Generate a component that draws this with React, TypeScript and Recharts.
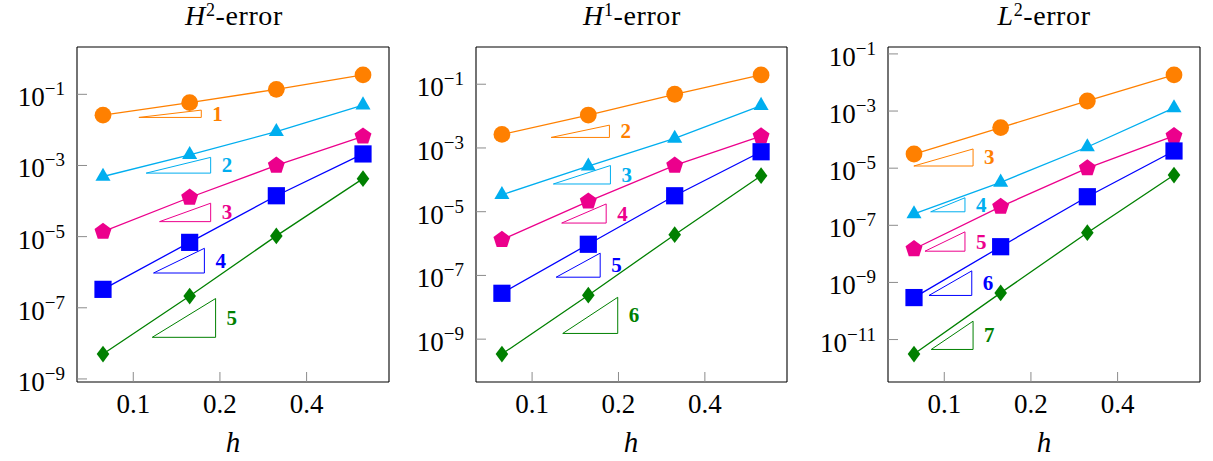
import React from "react"
import { ScatterChart, Scatter, XAxis, YAxis } from "recharts"

// mesh sizes
const H = [0.0785, 0.157, 0.314, 0.628]
const X_TICKS = [0.1, 0.2, 0.4]

// H2-error, one array per polynomial degree
const h2Orange = [2.6e-2, 5.82e-2, 1.38e-1, 3.51e-1]
const h2Cyan = [4.9e-4, 2.0e-3, 8.9e-3, 5.0e-2]
const h2Magenta = [1.38e-5, 1.26e-4, 1.0e-3, 6.6e-3]
const h2Blue = [3.3e-7, 6.9e-6, 1.41e-4, 2.11e-3]
const h2Green = [5.0e-9, 2.14e-7, 1.05e-5, 4.27e-4]

// H1-error
const h1Orange = [2.66e-3, 1.08e-2, 4.84e-2, 1.96e-1]
const h1Cyan = [3.4e-5, 2.7e-4, 2.0e-3, 2.14e-2]
const h1Magenta = [1.32e-6, 2.11e-5, 2.82e-4, 2.34e-3]
const h1Blue = [2.75e-8, 9.5e-7, 3.16e-5, 7.6e-4]
const h1Green = [3.4e-10, 2.4e-8, 1.9e-6, 1.35e-4]

// L2-error
const l2Orange = [3.13e-5, 2.63e-4, 2.25e-3, 1.84e-2]
const l2Cyan = [2.5e-7, 3.2e-6, 5.5e-5, 1.29e-3]
const l2Magenta = [1.48e-8, 4.5e-7, 1.0e-5, 1.35e-4]
const l2Blue = [2.95e-10, 1.78e-8, 1.0e-6, 4.0e-5]
const l2Green = [3.1e-12, 4.3e-10, 5.5e-8, 5.75e-6]

// slope triangles: [h start, h end, low error, high error]
const h2Slopes = [
  [0.1046, 0.1723, 2.24e-2, 3.6e-2],
  [0.1109, 0.1857, 6.1e-4, 1.69e-3],
  [0.1234, 0.1857, 2.64e-5, 8.7e-5],
  [0.1176, 0.1766, 9.5e-7, 4.7e-6],
  [0.1164, 0.1932, 1.48e-8, 1.82e-7],
]
const h1Slopes = [
  [0.1165, 0.186, 2.14e-3, 5.2e-3],
  [0.1186, 0.1875, 7.4e-5, 2.81e-4],
  [0.1268, 0.1812, 4.4e-6, 1.75e-5],
  [0.1213, 0.1727, 8.8e-8, 5.0e-7],
  [0.1279, 0.1988, 1.51e-9, 2.06e-8],
]
const l2Slopes = [
  [0.0784, 0.1259, 1.19e-5, 4.7e-5],
  [0.0897, 0.118, 2.97e-7, 9.2e-7],
  [0.0857, 0.118, 1.24e-8, 5.9e-8],
  [0.0885, 0.1246, 3.5e-10, 2.54e-9],
  [0.0901, 0.1259, 4.5e-12, 4.4e-11],
]
const h2Orders = ["1", "2", "3", "4", "5"]
const h1Orders = ["2", "3", "4", "5", "6"]
const l2Orders = ["3", "4", "5", "6", "7"]

const Y_TICKS_9 = [1e-1, 1e-3, 1e-5, 1e-7, 1e-9]
const Y_TICKS_11 = [1e-1, 1e-3, 1e-5, 1e-7, 1e-9, 1e-11]

const COLORS = ["#ff8000", "#00aeef", "#ec008c", "#0000ff", "#008000"]
const MARKERS = ["circle", "triangle", "pentagon", "square", "diamond"]
const FONT = "'Liberation Serif', 'Times New Roman', serif"

function markerShape(kind: string, color: string) {
  return (p: any) => {
    const { cx, cy } = p
    if (cx == null || cy == null) return <g />
    if (kind === "circle") return <circle cx={cx} cy={cy} r={8.4} fill={color} />
    if (kind === "square")
      return <rect x={cx - 8.6} y={cy - 8.6} width={17.2} height={17.2} fill={color} />
    if (kind === "diamond")
      return (
        <polygon
          points={`${cx},${cy - 8.4} ${cx + 6.3},${cy} ${cx},${cy + 8.4} ${cx - 6.3},${cy}`}
          fill={color}
        />
      )
    const n = kind === "triangle" ? 3 : 5
    const R = kind === "triangle" ? 8.7 : 8.9
    const pts = []
    for (let k = 0; k < n; k++) {
      const a = -Math.PI / 2 + (2 * Math.PI * k) / n
      pts.push(`${cx + R * Math.cos(a)},${cy + R * Math.sin(a)}`)
    }
    return <polygon points={pts.join(" ")} fill={color} />
  }
}

function labelShape(color: string) {
  return (p: any) => (
    <text
      x={p.cx + 11}
      y={p.cy}
      dominantBaseline="central"
      fontFamily={FONT}
      fontWeight="bold"
      fontSize={21}
      fill={color}
    >
      {p.payload.label}
    </text>
  )
}

function XTick({ x, y, payload }: any) {
  return (
    <text x={x} y={y} textAnchor="middle" fontFamily={FONT} fontSize={27} fill="#000">
      {String(payload.value)}
    </text>
  )
}

function YTick({ x, y, payload }: any) {
  const e = Math.round(Math.log10(payload.value))
  return (
    <text x={x} y={y + 12} textAnchor="end" fontFamily={FONT} fontSize={27} fill="#000">
      10
      <tspan dy={-11} fontSize={19}>
        {"\u2212" + Math.abs(e)}
      </tspan>
    </text>
  )
}

function Panel({
  left,
  width,
  yAxisWidth,
  rightMargin,
  series,
  slopes,
  orders,
  yTicks,
}: {
  left: number
  width: number
  yAxisWidth: number
  rightMargin: number
  series: number[][]
  slopes: number[][]
  orders: string[]
  yTicks: number[]
}) {
  const all = series.flat()
  const yMin = Math.min(...all)
  const yMax = Math.max(...all)
  const ySpread = Math.pow(yMax / yMin, 0.1)
  const xSpread = Math.pow(H[H.length - 1] / H[0], 0.1)
  const xDomain = [H[0] / xSpread, H[H.length - 1] * xSpread]
  const yDomain = [yMin / ySpread, yMax * ySpread]

  const axisLine = { stroke: "#000", strokeWidth: 1.1 }
  const tickLine = { stroke: "#8c8c8c", strokeWidth: 1 }

  return (
    <div style={{ position: "absolute", left, top: 0 }}>
      <ScatterChart
        width={width}
        height={461}
        margin={{ top: 46, right: rightMargin, bottom: 0, left: 0 }}
      >
        <XAxis
          xAxisId="b"
          dataKey="x"
          type="number"
          scale="log"
          domain={xDomain}
          allowDataOverflow
          ticks={X_TICKS}
          interval={0}
          height={79}
          tickSize={-10}
          tickMargin={41}
          tick={<XTick />}
          axisLine={axisLine}
          tickLine={tickLine}
        />
        <XAxis
          xAxisId="t"
          orientation="top"
          dataKey="x"
          type="number"
          scale="log"
          domain={xDomain}
          allowDataOverflow
          ticks={X_TICKS}
          interval={0}
          height={1}
          tickSize={-10}
          tick={false}
          axisLine={axisLine}
          tickLine={tickLine}
        />
        <YAxis
          yAxisId="l"
          dataKey="y"
          type="number"
          scale="log"
          domain={yDomain}
          allowDataOverflow
          ticks={yTicks}
          interval={0}
          width={yAxisWidth}
          tickSize={-10}
          tickMargin={22}
          tick={<YTick />}
          axisLine={axisLine}
          tickLine={tickLine}
        />
        <YAxis
          yAxisId="r"
          orientation="right"
          dataKey="y"
          type="number"
          scale="log"
          domain={yDomain}
          allowDataOverflow
          ticks={yTicks}
          interval={0}
          width={1}
          tickSize={-10}
          tick={false}
          axisLine={axisLine}
          tickLine={tickLine}
        />
        {series.map((vals, i) => (
          <Scatter
            key={"s" + i}
            xAxisId="b"
            yAxisId="l"
            data={H.map((x, j) => ({ x, y: vals[j] }))}
            line={{ stroke: COLORS[i], strokeWidth: 1.3 }}
            lineType="joint"
            fill={COLORS[i]}
            shape={markerShape(MARKERS[i], COLORS[i])}
            isAnimationActive={false}
          />
        ))}
        {slopes.map((s, i) => (
          <Scatter
            key={"t" + i}
            xAxisId="b"
            yAxisId="l"
            data={[
              { x: s[0], y: s[2] },
              { x: s[1], y: s[2] },
              { x: s[1], y: s[3] },
              { x: s[0], y: s[2] },
            ]}
            line={{ stroke: COLORS[i], strokeWidth: 1 }}
            lineType="joint"
            fill={COLORS[i]}
            shape={() => <g />}
            isAnimationActive={false}
          />
        ))}
        {slopes.map((s, i) => (
          <Scatter
            key={"l" + i}
            xAxisId="b"
            yAxisId="l"
            data={[{ x: s[1], y: Math.sqrt(s[2] * s[3]), label: orders[i] }]}
            fill={COLORS[i]}
            shape={labelShape(COLORS[i])}
            isAnimationActive={false}
          />
        ))}
      </ScatterChart>
    </div>
  )
}

function Title({ x, letter, power }: { x: number; letter: string; power: string }) {
  return (
    <text
      x={x}
      y={25}
      textAnchor="middle"
      fontFamily={FONT}
      fontSize={28}
      letterSpacing={0.6}
      fill="#000"
    >
      <tspan fontStyle="italic">{letter}</tspan>
      <tspan dy={-9} fontSize={18}>
        {power}
      </tspan>
      <tspan dy={9}>-error</tspan>
    </text>
  )
}

export default function App() {
  return (
    <div
      style={{
        position: "absolute",
        left: 0,
        top: 0,
        width: 1213,
        height: 461,
        background: "#fff",
      }}
    >
      <Panel
        left={0}
        width={400}
        yAxisWidth={77}
        rightMargin={10}
        series={[h2Orange, h2Cyan, h2Magenta, h2Blue, h2Green]}
        slopes={h2Slopes}
        orders={h2Orders}
        yTicks={Y_TICKS_9}
      />
      <Panel
        left={400}
        width={400}
        yAxisWidth={76}
        rightMargin={12}
        series={[h1Orange, h1Cyan, h1Magenta, h1Blue, h1Green]}
        slopes={h1Slopes}
        orders={h1Orders}
        yTicks={Y_TICKS_9}
      />
      <Panel
        left={800}
        width={413}
        yAxisWidth={88}
        rightMargin={12}
        series={[l2Orange, l2Cyan, l2Magenta, l2Blue, l2Green]}
        slopes={l2Slopes}
        orders={l2Orders}
        yTicks={Y_TICKS_11}
      />
      <svg
        width={1213}
        height={461}
        style={{ position: "absolute", left: 0, top: 0, pointerEvents: "none" }}
      >
        <Title x={234} letter="H" power="2" />
        <Title x={632} letter="H" power="1" />
        <Title x={1044} letter="L" power="2" />
        {[233, 631, 1044].map((x) => (
          <text
            key={x}
            x={x}
            y={452}
            textAnchor="middle"
            fontFamily={FONT}
            fontStyle="italic"
            fontSize={29}
            fill="#000"
          >
            h
          </text>
        ))}
      </svg>
    </div>
  )
}
